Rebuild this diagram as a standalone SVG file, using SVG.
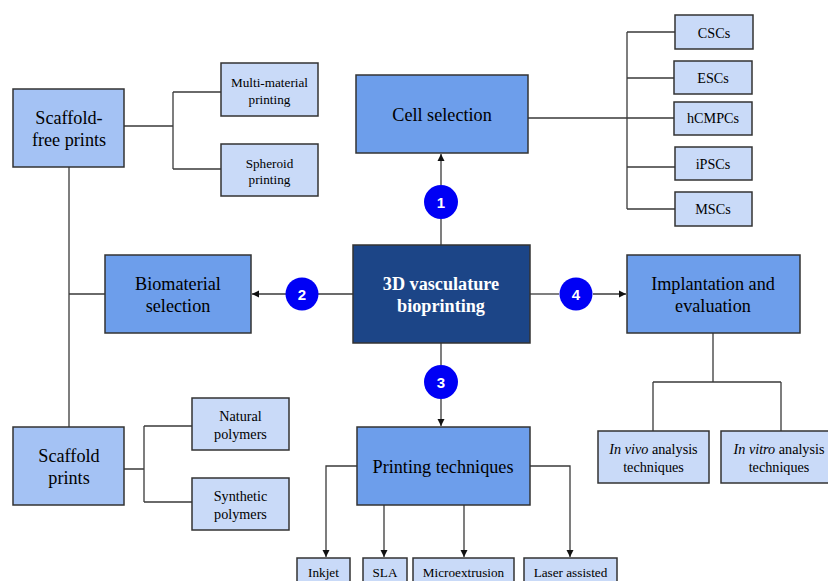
<svg xmlns="http://www.w3.org/2000/svg" width="828" height="581" viewBox="0 0 828 581">
<defs>
<style>
.b{stroke:#333;stroke-width:1.5}
.main{fill:#1c4587}
.l1{fill:#6d9eeb}
.l2{fill:#a4c2f4}
.leaf{fill:#c9daf8}
.t18{font-size:18.2px}
.t13{font-size:13.2px}
.t14{font-size:14.2px}
.w{fill:#fff;font-weight:bold}
.c{fill:#0000f5}
.n{font-size:15px;font-weight:bold;fill:#fff}
.ln{fill:none;stroke:#3a3a3a;stroke-width:1.3}
</style>
<marker id="ah" markerWidth="8" markerHeight="8" refX="7" refY="4" orient="auto" markerUnits="userSpaceOnUse">
<path d="M0,0.5 L7,4 L0,7.5 Z" fill="#111"/>
</marker>
</defs>
<rect width="828" height="581" fill="#fff"/>
<g id="connectors">
<path class="ln" d="M124,126 H173 M173,92 V169 M173,92 H221 M173,169 H221"/>
<path class="ln" d="M69,167 V427 M69,294 H105"/>
<path class="ln" d="M124,469 H144 M144,426 V502 M144,426 H192 M144,502 H192"/>
<path class="ln" d="M528,118 H674 M627,32 V209 M627,32 H675 M627,78 H674 M627,167 H675 M627,209 H675"/>
<path class="ln" d="M441,245 V219"/>
<path class="ln" d="M441,185 V154" marker-end="url(#ah)"/>
<path class="ln" d="M353,294 H318"/>
<path class="ln" d="M286,294 H252" marker-end="url(#ah)"/>
<path class="ln" d="M530,294 H559"/>
<path class="ln" d="M593,294 H626" marker-end="url(#ah)"/>
<path class="ln" d="M441,343 V365"/>
<path class="ln" d="M441,399 V426" marker-end="url(#ah)"/>
<path class="ln" d="M713,333 V382 M653,382 H781 M653,382 V431 M781,382 V431"/>
<path class="ln" d="M357,466 H326 V557" marker-end="url(#ah)"/>
<path class="ln" d="M384,505 V557" marker-end="url(#ah)"/>
<path class="ln" d="M464,505 V557" marker-end="url(#ah)"/>
<path class="ln" d="M530,466 H570 V557" marker-end="url(#ah)"/>
</g>
<g font-family="'Liberation Serif', 'DejaVu Serif', serif" text-anchor="middle" fill="#000">
<g id="main"><rect class="b main" x="353" y="245" width="177" height="98"/><text class="t18 w" x="441" y="290">3D vasculature</text><text class="t18 w" x="441" y="312">bioprinting</text></g>
<g id="cell-selection"><rect class="b l1" x="356" y="75" width="172" height="78"/><text class="t18" x="442" y="121">Cell selection</text></g>
<g id="biomaterial-selection"><rect class="b l1" x="105" y="255" width="146" height="78"/><text class="t18" x="178" y="290">Biomaterial</text><text class="t18" x="178" y="312">selection</text></g>
<g id="implantation"><rect class="b l1" x="627" y="255" width="173" height="78"/><text class="t18" x="713" y="290">Implantation and</text><text class="t18" x="713" y="312">evaluation</text></g>
<g id="printing-techniques"><rect class="b l1" x="357" y="427" width="173" height="78"/><text class="t18" x="443" y="473">Printing techniques</text></g>
<g id="scaffold-free"><rect class="b l2" x="13" y="89" width="111" height="78"/><text class="t18" x="69" y="124">Scaffold-</text><text class="t18" x="69" y="146">free prints</text></g>
<g id="scaffold"><rect class="b l2" x="13" y="427" width="111" height="78"/><text class="t18" x="69" y="462">Scaffold</text><text class="t18" x="69" y="484">prints</text></g>
<g id="multi-material"><rect class="b leaf" x="221" y="63" width="97" height="53"/><text class="t13" x="269.5" y="87">Multi-material</text><text class="t13" x="269.5" y="104">printing</text></g>
<g id="spheroid"><rect class="b leaf" x="221" y="144" width="97" height="52"/><text class="t13" x="269.5" y="168">Spheroid</text><text class="t13" x="269.5" y="184">printing</text></g>
<g id="natural"><rect class="b leaf" x="192" y="398" width="97" height="52"/><text class="t14" x="240.5" y="421">Natural</text><text class="t14" x="240.5" y="439">polymers</text></g>
<g id="synthetic"><rect class="b leaf" x="192" y="478" width="97" height="52"/><text class="t14" x="240.5" y="501">Synthetic</text><text class="t14" x="240.5" y="519">polymers</text></g>
<g id="cscs"><rect class="b leaf" x="675" y="15" width="78" height="34"/><text class="t14" x="714" y="38">CSCs</text></g>
<g id="escs"><rect class="b leaf" x="674" y="61" width="78" height="33"/><text class="t14" x="713" y="83">ESCs</text></g>
<g id="hcmpcs"><rect class="b leaf" x="674" y="102" width="78" height="33"/><text class="t14" x="713" y="123">hCMPCs</text></g>
<g id="ipscs"><rect class="b leaf" x="675" y="147" width="77" height="33"/><text class="t14" x="713" y="169">iPSCs</text></g>
<g id="mscs"><rect class="b leaf" x="675" y="192" width="77" height="34"/><text class="t14" x="713" y="214">MSCs</text></g>
<g id="in-vivo"><rect class="b leaf" x="598" y="431" width="111" height="52"/><text class="t14" x="653.5" y="454"><tspan font-style="italic">In vivo</tspan> analysis</text><text class="t14" x="653.5" y="472">techniques</text></g>
<g id="in-vitro"><rect class="b leaf" x="721" y="431" width="121" height="52"/><text class="t14" x="779" y="454"><tspan font-style="italic">In vitro</tspan> analysis</text><text class="t14" x="779" y="472">techniques</text></g>
<g id="inkjet"><rect class="b leaf" x="297" y="558" width="53" height="30"/><text class="t13" x="323.5" y="577">Inkjet</text></g>
<g id="sla"><rect class="b leaf" x="363" y="558" width="44" height="30"/><text class="t13" x="385" y="577">SLA</text></g>
<g id="microextrusion"><rect class="b leaf" x="413" y="558" width="101" height="30"/><text class="t13" x="463.5" y="577">Microextrusion</text></g>
<g id="laser"><rect class="b leaf" x="524" y="558" width="93" height="30"/><text class="t13" x="570.5" y="577">Laser assisted</text></g>
</g>
<g font-family="'Liberation Sans', Arial, sans-serif" text-anchor="middle">
<g id="step1"><circle class="c" cx="441" cy="202" r="17"/><text class="n" x="441" y="207.5">1</text></g>
<g id="step2"><circle class="c" cx="302" cy="294" r="16.5"/><text class="n" x="302" y="299.5">2</text></g>
<g id="step3"><circle class="c" cx="441" cy="382" r="17"/><text class="n" x="441" y="387.5">3</text></g>
<g id="step4"><circle class="c" cx="576" cy="294" r="16.5"/><text class="n" x="576" y="299.5">4</text></g>
</g>
</svg>
